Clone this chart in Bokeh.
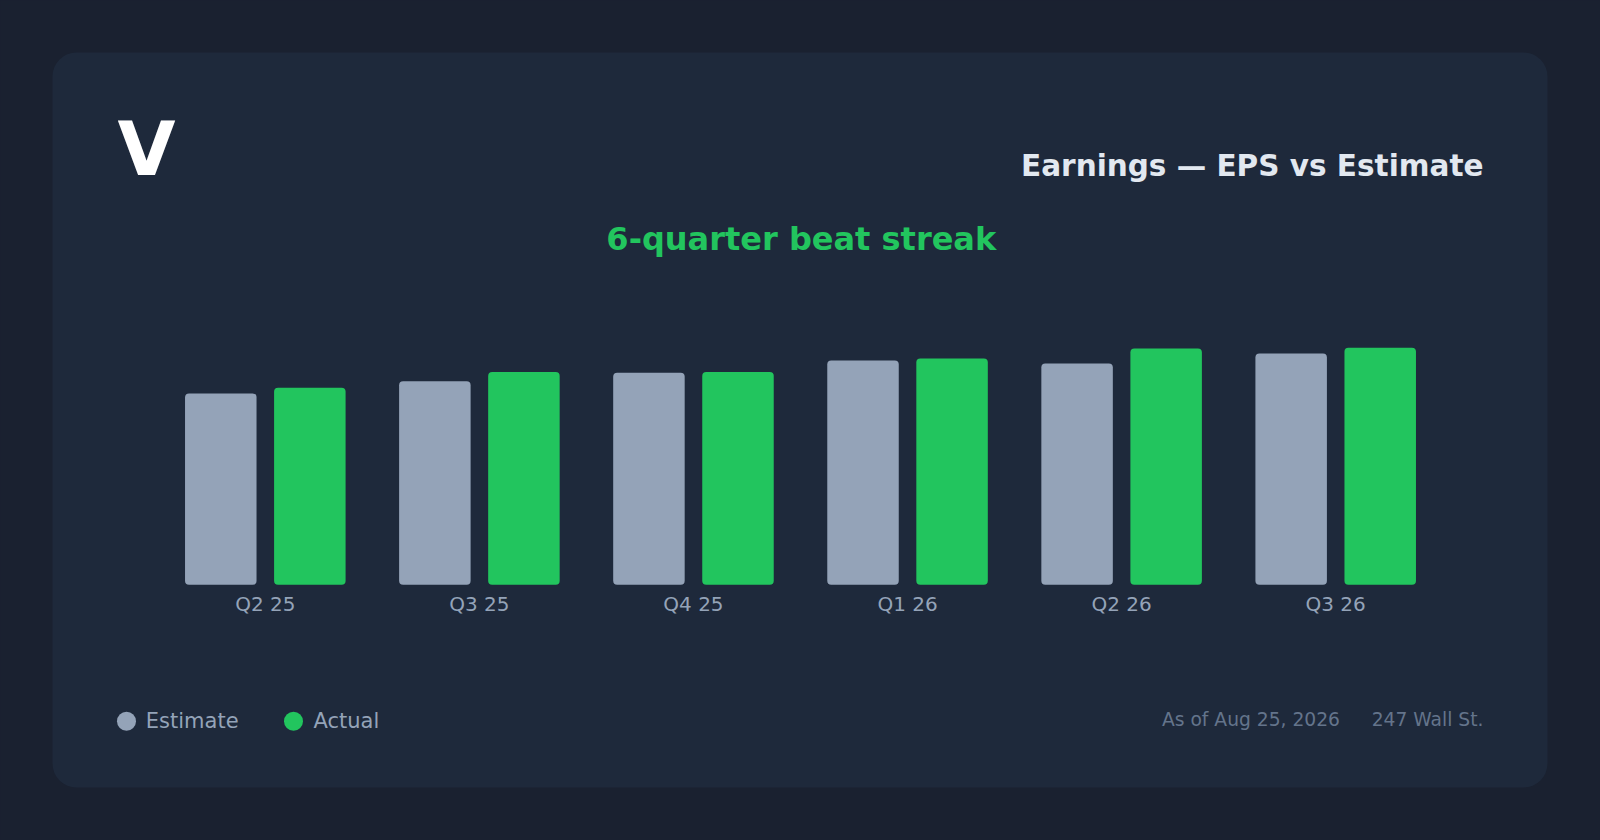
from bokeh.plotting import figure
from bokeh.models import (FactorRange, Range1d, CategoricalAxis, Label, BoxAnnotation,
                          GlobalInlineStyleSheet, ColumnDataSource)
from bokeh.transform import dodge
from bokeh.embed import file_html
from bokeh.resources import INLINE

# ---- data ----
quarters = ["Q2 25", "Q3 25", "Q4 25", "Q1 26", "Q2 26", "Q3 26"]
estimate = [2.68, 2.85, 2.97, 3.14, 3.10, 3.24]
actual = [2.76, 2.98, 2.98, 3.17, 3.31, 3.32]
series_names = ["Estimate", "Actual"]

ticker = "V"
title_text = "Earnings \u2014 EPS vs Estimate"
subtitle_text = "6-quarter beat streak"
asof_text = "As of Aug 25, 2026"
source_text = "247 Wall St."

# ---- style ----
OUTER = "#1a2130"
CARD = "#1e293b"
EST_C = "#94a3b8"
ACT_C = "#22c55e"
FONT = "DejaVu Sans"
W, H = 1600, 840
PAD = 0.737  # categorical padding on each side

p = figure(width=W, height=H, output_backend="svg", toolbar_location=None,
           x_range=FactorRange(factors=quarters, range_padding=PAD,
                               range_padding_units="absolute"),
           y_range=Range1d(-3.581, 8.183),
           x_axis_location=None, y_axis_location=None,
           min_border=0, outline_line_color=None,
           background_fill_color=OUTER, border_fill_color=OUTER)
p.extra_y_ranges = {"px": Range1d(H, 0)}
p.xgrid.visible = False
p.ygrid.visible = False
p.stylesheets = [GlobalInlineStyleSheet(css=f"html, body {{ background-color: {OUTER}; }}")]

SPAN = len(quarters) + 2 * PAD


def fx(px):
    """pixel offset from the figure's left edge -> synthetic x coordinate"""
    return -PAD + px * SPAN / W


# card
card = BoxAnnotation(left=fx(52), right=fx(1547), top=52, bottom=787,
                     y_range_name="px",
                     fill_color=CARD, fill_alpha=1.0, line_color=None,
                     border_radius=24, level="underlay")
p.add_layout(card)

source = ColumnDataSource(dict(q=quarters, est=estimate, act=actual))

p.vbar(x=dodge("q", -0.208, range=p.x_range), top="est", bottom=0, width=0.334,
       source=source, fill_color=EST_C, line_color=None, border_radius=4)
p.vbar(x=dodge("q", 0.208, range=p.x_range), top="act", bottom=0, width=0.334,
       source=source, fill_color=ACT_C, line_color=None, border_radius=4)

xaxis = CategoricalAxis(fixed_location=0)
xaxis.axis_line_color = None
xaxis.major_tick_line_color = None
xaxis.minor_tick_line_color = None
xaxis.major_tick_in = 0
xaxis.major_tick_out = 0
xaxis.major_label_standoff = 7
xaxis.major_label_text_font = FONT
xaxis.major_label_text_font_size = "20px"
xaxis.major_label_text_color = EST_C
p.add_layout(xaxis, "below")


def lab(x, y, text, size, color, align="left", bold=False):
    p.add_layout(Label(x=fx(x), y=y, y_range_name="px", text=text,
                       text_font=FONT, text_font_size=f"{size}px", text_color=color,
                       text_align=align, text_baseline="alphabetic",
                       text_font_style="bold" if bold else "normal"))


lab(117, 148.3, ticker, 75, "#ffffff", bold=True)
lab(1483, 165.0, title_text, 29.5, "#e2e8f0", align="right", bold=True)
lab(800.8, 238.2, subtitle_text, 32, ACT_C, align="center", bold=True)

# legend
p.scatter(x=[fx(126), fx(293)], y=[720.7, 720.7], size=19, marker="circle",
          color=[EST_C, ACT_C], line_color=None, y_range_name="px")
lab(145.3, 720.0, series_names[0], 21, EST_C)
lab(313, 720.0, series_names[1], 21, EST_C)

# footer
lab(1339.5, 719.3, asof_text, 18.7, "#64748b", align="right")
lab(1483, 719.3, source_text, 18.7, "#64748b", align="right")

open("out.html", "w").write(file_html(p, INLINE))
